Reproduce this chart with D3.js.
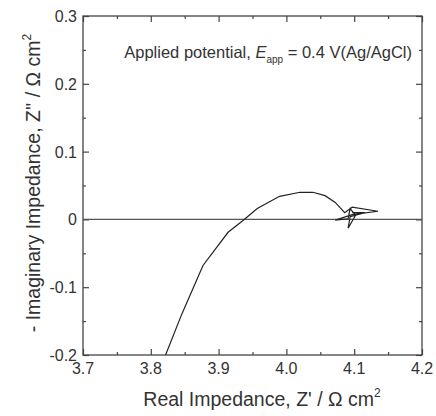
<!DOCTYPE html>
<html lang="en">

<head>
    <meta charset="UTF-8">
    <script src="https://cdn.jsdelivr.net/npm/d3@7"></script>
    <title>Nyquist plot</title>
    <style>
        body {
            margin: 0;
            background: white;
        }

        text {
            font-family: Arial, "Liberation Sans", sans-serif;
            fill: #333;
        }
    </style>
</head>

<body>
    <script>
        /*-------------------------------------------------------*/
        /*------------------------ Data -------------------------*/
        /*-------------------------------------------------------*/
        // real part Z' (ohm cm2)
        const zReal = [3.805, 3.821, 3.846, 3.877, 3.914, 3.936, 3.957, 3.990, 4.020, 4.039,
            4.057, 4.072, 4.086, 4.097, 4.135, 4.097, 4.072, 4.091, 4.094, 4.102,
            4.091, 4.094, 4.116, 4.097]
        // minus imaginary part -Z'' (ohm cm2)
        const zImag = [-0.23, -0.202, -0.139, -0.068, -0.019, -0.0015, 0.016, 0.034, 0.040, 0.040,
            0.035, 0.025, 0.010, 0.018, 0.012, 0.007, -0.001, 0.001, 0.016, 0.006,
            -0.013, 0.004, 0.010, 0.010]

        const xTicks = [3.7, 3.8, 3.9, 4.0, 4.1, 4.2]
        const yTicks = [-0.2, -0.1, 0, 0.1, 0.2, 0.3]

        /*-------------------------------------------------------*/
        /*----------------------- Layout ------------------------*/
        /*-------------------------------------------------------*/
        const width = 436, height = 416
        const plot = { left: 83, right: 422, top: 16, bottom: 355 }

        const svg = d3.select("body").append("svg")
            .attr("width", width)
            .attr("height", height)

        const x = d3.scaleLinear().domain([3.7, 4.2]).range([plot.left, plot.right])
        const y = d3.scaleLinear().domain([-0.2, 0.3]).range([plot.bottom, plot.top])

        const pw = plot.right - plot.left
        const ph = plot.bottom - plot.top

        // minor ticks halfway between the majors
        const xMinor = d3.range(3.75, 4.2, 0.1)
        const yMinor = d3.range(-0.15, 0.3, 0.1)

        /*-------------------------------------------------------*/
        /*------------------------ Axes -------------------------*/
        /*-------------------------------------------------------*/
        // ticks point inward on all four sides
        function addAxis(axis, transform, ticks, size) {
            svg.append("g")
                .attr("transform", transform)
                .call(axis.tickValues(ticks).tickSize(size).tickFormat(""))
                .call(g => g.select(".domain").remove())
                .call(g => g.selectAll("line").attr("stroke", "#444").attr("stroke-width", 1.2))
        }
        addAxis(d3.axisBottom(x), `translate(0,${plot.bottom})`, xTicks, -6)
        addAxis(d3.axisBottom(x), `translate(0,${plot.bottom})`, xMinor, -3)
        addAxis(d3.axisTop(x), `translate(0,${plot.top})`, xTicks, -6)
        addAxis(d3.axisTop(x), `translate(0,${plot.top})`, xMinor, -3)
        addAxis(d3.axisLeft(y), `translate(${plot.left},0)`, yTicks, -6)
        addAxis(d3.axisLeft(y), `translate(${plot.left},0)`, yMinor, -3)
        addAxis(d3.axisRight(y), `translate(${plot.right},0)`, yTicks, -6)
        addAxis(d3.axisRight(y), `translate(${plot.right},0)`, yMinor, -3)

        svg.append("rect")
            .attr("x", plot.left)
            .attr("y", plot.top)
            .attr("width", pw)
            .attr("height", ph)
            .attr("fill", "none")
            .attr("stroke", "#444")
            .attr("stroke-width", 1.3)

        // tick labels
        svg.selectAll(".xlab")
            .data(xTicks)
            .enter()
            .append("text")
            .attr("x", d => x(d))
            .attr("y", plot.bottom + 19)
            .attr("text-anchor", "middle")
            .attr("font-size", 16)
            .text(d => d.toFixed(1))

        svg.selectAll(".ylab")
            .data(yTicks)
            .enter()
            .append("text")
            .attr("x", plot.left - 6)
            .attr("y", d => y(d) + 6)
            .attr("text-anchor", "end")
            .attr("font-size", 16)
            .text(d => d === 0 ? "0" : d.toFixed(1))

        /*-------------------------------------------------------*/
        /*---------------------- Titles -------------------------*/
        /*-------------------------------------------------------*/
        const xTitle = svg.append("text")
            .attr("x", 262)
            .attr("y", 406)
            .attr("text-anchor", "middle")
            .attr("font-size", 19.5)
        xTitle.append("tspan").text("Real Impedance, Z' / \u03A9 cm")
        xTitle.append("tspan").attr("font-size", 12).attr("dy", -9).text("2")

        const yTitle = svg.append("text")
            .attr("transform", `translate(40,183) rotate(-90)`)
            .attr("text-anchor", "middle")
            .attr("font-size", 19.5)
        yTitle.append("tspan").text("- Imaginary Impedance, Z'' / \u03A9 cm")
        yTitle.append("tspan").attr("font-size", 12).attr("dy", -9).text("2")

        const note = svg.append("text")
            .attr("x", 412)
            .attr("y", 58)
            .attr("text-anchor", "end")
            .attr("font-size", 16.5)
        note.append("tspan").text("Applied potential, ")
        note.append("tspan").attr("font-style", "italic").text("E")
        note.append("tspan").attr("font-size", 10).attr("dy", 5).text("app")
        note.append("tspan").attr("dy", -5).text(" = 0.4 V(Ag/AgCl)")

        /*-------------------------------------------------------*/
        /*----------------------- Marks -------------------------*/
        /*-------------------------------------------------------*/
        svg.append("clipPath")
            .attr("id", "clip")
            .append("rect")
            .attr("x", plot.left)
            .attr("y", plot.top)
            .attr("width", pw)
            .attr("height", ph)

        // zero line
        svg.append("line")
            .attr("x1", x(3.7))
            .attr("x2", x(4.2))
            .attr("y1", y(0))
            .attr("y2", y(0))
            .attr("stroke", "#555")
            .attr("stroke-width", 1.2)

        const line = d3.line()
            .x(d => x(d[0]))
            .y(d => y(d[1]))

        svg.append("path")
            .datum(d3.zip(zReal, zImag))
            .attr("clip-path", "url(#clip)")
            .attr("d", line)
            .attr("fill", "none")
            .attr("stroke", "#222")
            .attr("stroke-width", 1.2)
    </script>
</body>

</html>
